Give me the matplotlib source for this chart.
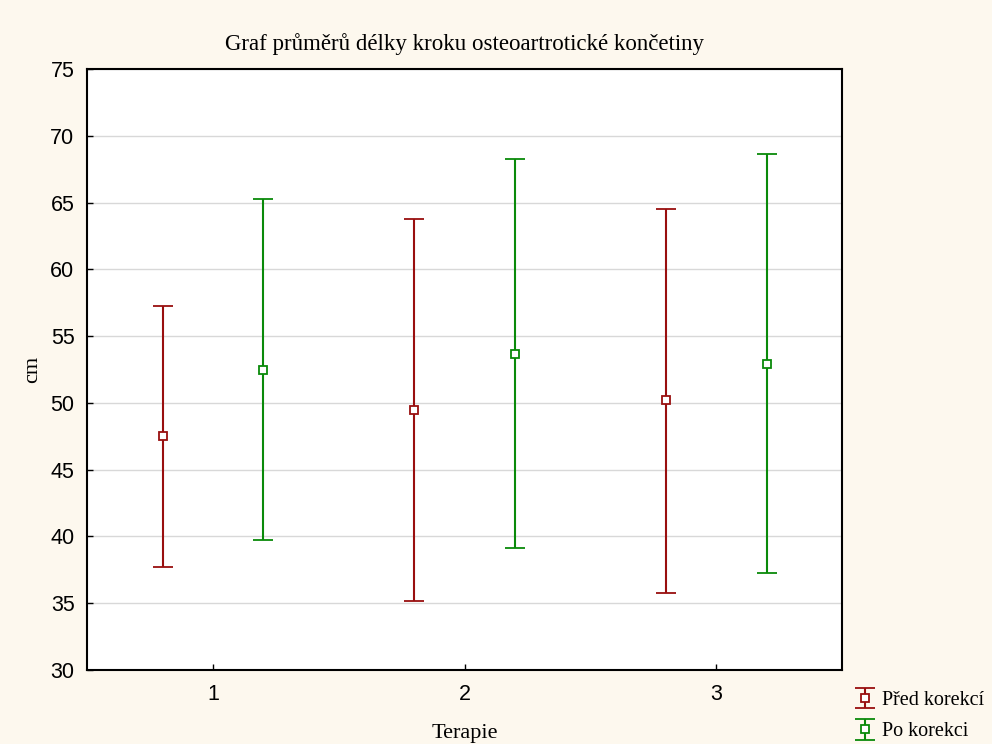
import numpy as np
import matplotlib.pyplot as plt

terapie = [1, 2, 3]
pred_mean = [47.5, 49.5, 50.25]
pred_low = [37.7, 35.2, 35.8]
pred_high = [57.25, 63.8, 64.5]
po_mean = [52.5, 53.7, 52.95]
po_low = [39.75, 39.1, 37.3]
po_high = [65.3, 68.25, 68.65]

bg = '#fdf8ee'
red = '#990f0f'
green = '#0a8a0a'

fig = plt.figure(figsize=(9.92, 7.44), dpi=100, facecolor=bg)
ax = fig.add_axes([0.0877, 0.0995, 0.7613, 0.8075])
ax.set_facecolor('white')

x = np.array(terapie, dtype=float)

def draw(xpos, mean, low, high, color, label):
    mean = np.array(mean)
    err = [mean - np.array(low), np.array(high) - mean]
    return ax.errorbar(xpos, mean, yerr=err, fmt='s', color=color, ecolor=color,
                       mfc='white', mec=color, ms=6, mew=1.3, elinewidth=1.5,
                       capsize=7, capthick=1.5, label=label, zorder=3)

h1 = draw(x - 0.2, pred_mean, pred_low, pred_high, red, 'Před korekcí')
h2 = draw(x + 0.2, po_mean, po_low, po_high, green, 'Po korekci')

ax.set_xlim(0.5, 3.5)
ax.set_ylim(30, 75)
ax.set_xticks(terapie)
ax.set_yticks(np.arange(30, 76, 5))
ax.yaxis.grid(True, color='#d8d8d8', lw=1)
ax.set_axisbelow(True)
ax.tick_params(direction='in', length=4, width=1, labelsize=15.5)
ax.tick_params(axis='x', pad=10)
ax.tick_params(axis='y', pad=9)
for lab in ax.get_xticklabels() + ax.get_yticklabels():
    lab.set_fontfamily('Liberation Sans')
for s in ax.spines.values():
    s.set_linewidth(1.5)

ax.set_title('Graf průměrů délky kroku osteoartrotické končetiny',
             family='Liberation Serif', fontsize=16.5, pad=14)
ax.set_xlabel('Terapie', family='Liberation Serif', fontsize=16, labelpad=14)
ax.set_ylabel('cm', family='Liberation Serif', fontsize=16, labelpad=6)

fig.legend(handles=[h1, h2], loc='lower left', bbox_to_anchor=(0.847, -0.021),
           frameon=False, prop={'family': 'Liberation Serif', 'size': 14.5},
           handlelength=0.7, handletextpad=0.45, labelspacing=0.62)

fig.savefig('out.png', dpi=100, facecolor=bg)
